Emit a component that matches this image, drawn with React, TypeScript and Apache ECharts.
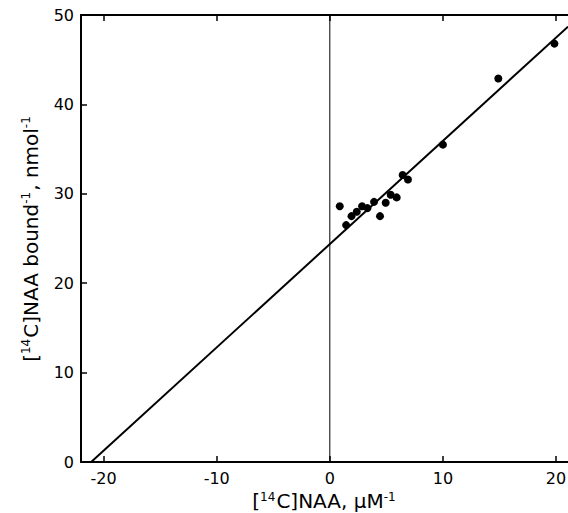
import React, { useEffect, useRef } from "react";
import * as echarts from "echarts";

const xTicks = [-20, -10, 0, 10, 20];
const yTicks = [0, 10, 20, 30, 40, 50];
const pointsX = [0.88, 1.44, 1.92, 2.38, 2.85, 3.33, 3.91, 4.44, 4.94, 5.38, 5.91, 6.44, 6.91, 10.0, 14.9, 19.86];
const pointsY = [28.6, 26.5, 27.5, 28.0, 28.6, 28.4, 29.1, 27.5, 29.0, 29.9, 29.6, 32.1, 31.6, 35.5, 42.9, 46.8];
const fitX = [-21.1, 21.06];
const fitY = [0, 48.7];
const zeroLineX = [0, 0];
const zeroLineY = [0, 50];

export default function App() {
  const ref = useRef<HTMLDivElement>(null);
  useEffect(() => {
    if (!ref.current) return;
    const chart = echarts.init(ref.current, null, { renderer: "svg" });
    const font = "DejaVu Sans";
    const lineStyle = { color: "#000", width: 2 };
    const rich = {
      b: { fontFamily: font, fontSize: 20, color: "#000" },
      s: { fontFamily: font, fontSize: 12, color: "#000", verticalAlign: "top", padding: [0, 1, 9, 0] },
    };
    chart.setOption({
      animation: false,
      backgroundColor: "#fff",
      grid: { left: 81, top: 15, right: 0, bottom: 51, containLabel: false, outerBoundsMode: "none" },
      xAxis: [
        {
          type: "value",
          min: -22,
          max: 21.06,
          position: "bottom",
          axisLine: { show: true, onZero: false, lineStyle },
          axisTick: { show: true, inside: true, length: 6, customValues: xTicks, lineStyle: { color: "#000", width: 1.5 } },
          axisLabel: { customValues: xTicks, color: "#000", fontFamily: font, fontSize: 16, margin: 8 },
          splitLine: { show: false },
          name: "{b|[}{s|14}{b|C]NAA, μM}{s|-1}",
          nameLocation: "middle",
          nameGap: 25,
          nameTextStyle: { rich },
        },
        {
          type: "value",
          min: -22,
          max: 21.06,
          position: "top",
          axisLine: { show: true, onZero: false, lineStyle },
          axisTick: { show: true, inside: true, length: 6, customValues: xTicks, lineStyle: { color: "#000", width: 1.5 } },
          axisLabel: { show: false },
          splitLine: { show: false },
        },
      ],
      yAxis: [
        {
          type: "value",
          min: 0,
          max: 50,
          interval: 10,
          position: "left",
          axisLine: { show: true, onZero: false, lineStyle },
          axisTick: { show: true, inside: true, length: 6, customValues: yTicks, lineStyle: { color: "#000", width: 1.5 } },
          axisLabel: { customValues: yTicks, color: "#000", fontFamily: font, fontSize: 16, margin: 7 },
          splitLine: { show: false },
          name: "{b|[}{s|14}{b|C]NAA bound}{s|-1}{b|, nmol}{s|-1}",
          nameLocation: "middle",
          nameGap: 40,
          nameRotate: 90,
          nameTextStyle: { rich },
        },
      ],
      series: [
        {
          type: "line",
          data: zeroLineX.map((x, i) => [x, zeroLineY[i]]),
          symbol: "none",
          lineStyle: { color: "#000", width: 1 },
          silent: true,
        },
        {
          type: "line",
          data: fitX.map((x, i) => [x, fitY[i]]),
          symbol: "none",
          lineStyle: { color: "#000", width: 2 },
          clip: true,
          silent: true,
        },
        {
          type: "scatter",
          data: pointsX.map((x, i) => [x, pointsY[i]]),
          symbol: "circle",
          symbolSize: 8,
          itemStyle: { color: "#000", opacity: 1 },
        },
      ],
    });
    return () => chart.dispose();
  }, []);
  return <div ref={ref} style={{ position: "fixed", left: 0, top: 0, width: 568, height: 513 }} />;
}
